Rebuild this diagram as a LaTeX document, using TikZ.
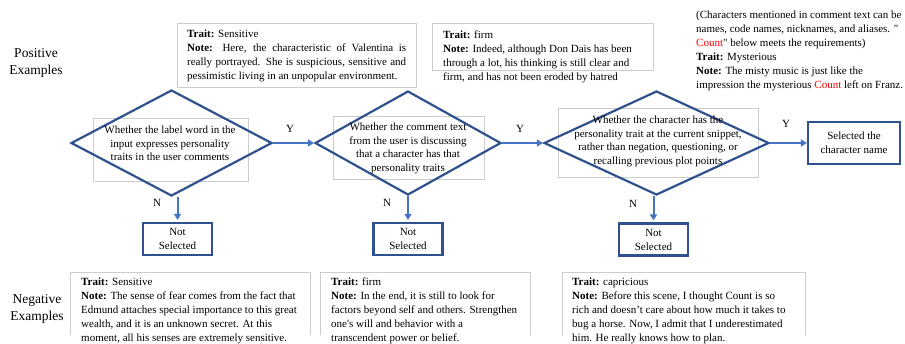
\documentclass[tikz,border=0pt]{standalone}
\usepackage{fontspec}
\setmainfont{Liberation Serif}
\usetikzlibrary{shapes.geometric,arrows.meta}
\definecolor{darkblue}{HTML}{2F528F}
\definecolor{lightblue}{HTML}{4472C4}

\begin{document}
\begin{tikzpicture}[x=1pt,y=-1pt]
\tikzset{decision/.style={draw=darkblue, line width=2.2pt, diamond, inner sep=0pt},
  framebox/.style={draw=black!20, line width=0.6pt, inner sep=0pt},
  frameline/.style={draw=black!20, line width=0.6pt},
  qtext/.style={align=center, inner sep=0pt, font=\fontsize{11}{13.5}\selectfont},
  notetext/.style={align=left, anchor=north west, inner sep=0pt, font=\fontsize{11}{14}\selectfont},
  endbox/.style={draw=darkblue, line width=2.2pt, inner sep=0pt, align=center, font=\fontsize{11}{14}\selectfont},
  flow/.style={draw=lightblue, line width=2pt, -{Triangle[length=6pt,width=7pt]}},
  side/.style={align=center, font=\fontsize{13.5}{17}\selectfont},
  yn/.style={font=\fontsize{11}{13}\selectfont}}
\useasboundingbox (0,0) rectangle (905,343);
\clip (0,0) rectangle (905,343);
\node[side] (pos) at (36,62.5) {Positive\\Examples};
\node[side] (neg) at (37,309) {Negative\\Examples};
% top notes
\node[framebox, anchor=north west, minimum width=239, minimum height=64] (nb1) at (177,23) {};
\node[notetext, text width=219, align=justify] (n1) at (187,30) {\textbf{Trait:} Sensitive\\
  \textbf{Note:} Here, the characteristic of Valentina is\linebreak
  really portrayed. She is suspicious, sensitive and\linebreak
  pessimistic living in an unpopular environment.};
\node[framebox, anchor=north west, minimum width=221, minimum height=47] (nb2) at (432,23) {};
\node[notetext] (n2) at (443,30.5) {\textbf{Trait:} firm\\
  \textbf{Note:} Indeed, although Don Dais has been\\
  through a lot, his thinking is still clear and\\
  firm, and has not been eroded by hatred};
\node[notetext] (n3) at (696,10.5) {(Characters mentioned in comment text can be\\
  names, code names, nicknames, and aliases. \textquotedbl\\
  \textcolor{red}{Count}\textquotedbl{} below meets the requirements)\\
  \textbf{Trait:} Mysterious\\
  \textbf{Note:} The misty music is just like the\\
  impression the mysterious \textcolor{red}{Count} left on Franz.};
% decisions
\node[framebox, minimum width=155, minimum height=63] (f1) at (170.5,149.5) {};
\node[framebox, minimum width=151, minimum height=63] (f2) at (408.5,147.5) {};
\node[framebox, minimum width=200, minimum height=69] (f3) at (658,142.5) {};
\node[decision, minimum width=201, minimum height=106] (q1) at (171.5,143) {};
\node[decision, minimum width=186, minimum height=104] (q2) at (408,143) {};
\node[decision, minimum width=225, minimum height=104] (q3) at (656.5,143) {};
\node[qtext] (qt1) at (170,143.5) {Whether the label word in the\\input expresses personality\\traits in the user comments};
\node[qtext] (qt2) at (408,148.5) {Whether the comment text\\from the user is discussing\\that a character has that\\personality traits};
\node[qtext] (qt3) at (658,141.5) {Whether the character has the\\personality trait at the current snippet,\\rather than negation, questioning, or\\recalling previous plot points};
\node[endbox, minimum width=92, minimum height=42] (sel) at (854,143) {Selected the\\character name};
\node[endbox, minimum width=69, minimum height=32] (ns1) at (177.5,239) {Not\\Selected};
\node[endbox, minimum width=69, minimum height=32] (ns2) at (408,239) {Not\\Selected};
\node[endbox, minimum width=69, minimum height=32] (ns3) at (653.5,239.5) {Not\\Selected};
% arrows
\draw[flow] (q1.east) -- (q2.west);
\draw[flow] (q2.east) -- (q3.west);
\draw[flow] (q3.east) -- (sel.west);
\draw[flow, shorten >=2pt] (q1.south -| ns1.north) -- (ns1.north);
\draw[flow, shorten >=2pt] (q2.south -| ns2.north) -- (ns2.north);
\draw[flow, shorten >=2pt] (q3.south -| ns3.north) -- (ns3.north);
\node[yn] (y1) at (290,129) {Y};
\node[yn] (y2) at (520,129) {Y};
\node[yn] (y3) at (786,124) {Y};
\node[yn] (no1) at (157,203) {N};
\node[yn] (no2) at (387,203) {N};
\node[yn] (no3) at (633,204) {N};
% bottom notes
\node[anchor=north west, inner sep=0pt, minimum width=240, minimum height=63] (nb4) at (70,272) {};
\node[anchor=north west, inner sep=0pt, minimum width=210, minimum height=63] (nb5) at (320,272) {};
\node[anchor=north west, inner sep=0pt, minimum width=243, minimum height=63] (nb6) at (562,272) {};
\draw[frameline] (nb4.south west) |- (nb4.north east) -- (nb4.south east);
\draw[frameline] (nb5.south west) |- (nb5.north east) -- (nb5.south east);
\draw[frameline] (nb6.south west) |- (nb6.north east) -- (nb6.south east);
\node[notetext] (n4) at (81,277.5) {\textbf{Trait:} Sensitive\\
  \textbf{Note:} The sense of fear comes from the fact that\\
  Edmund attaches special importance to this great\\
  wealth, and it is an unknown secret. At this\\
  moment, all his senses are extremely sensitive.};
\node[notetext] (n5) at (331,277.5) {\textbf{Trait:} firm\\
  \textbf{Note:} In the end, it is still to look for\\
  factors beyond self and others. Strengthen\\
  one\textquotesingle s will and behavior with a\\
  transcendent power or belief.};
\node[notetext] (n6) at (572,277.5) {\textbf{Trait:} capricious\\
  \textbf{Note:} Before this scene, I thought Count is so\\
  rich and doesn’t care about how much it takes to\\
  bug a horse. Now, I admit that I underestimated\\
  him. He really knows how to plan.};
\end{tikzpicture}
\end{document}
